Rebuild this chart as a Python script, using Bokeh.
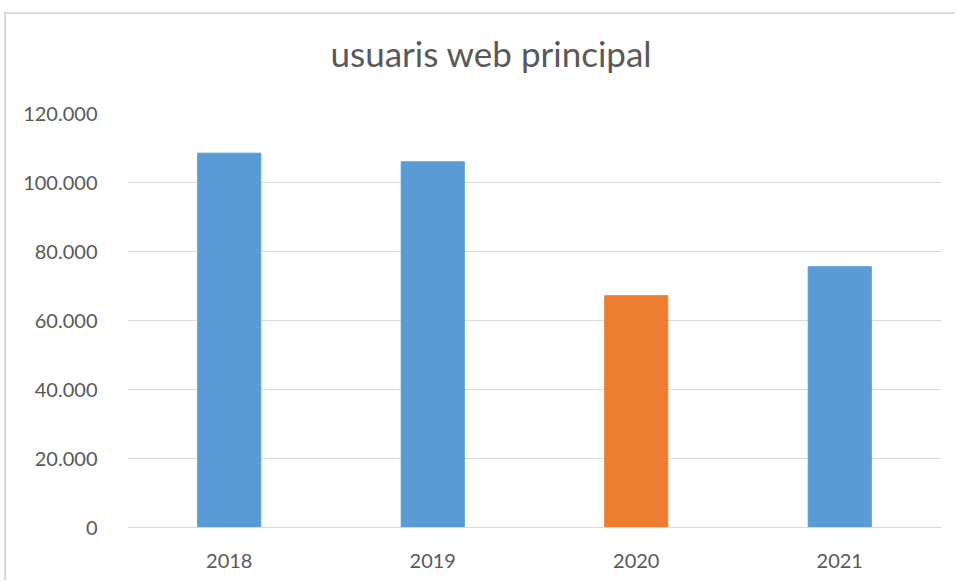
from bokeh.plotting import figure
from bokeh.models import ColumnDataSource, FixedTicker, Title
from bokeh.embed import file_html
from bokeh.resources import INLINE

years = ["2018", "2019", "2020", "2021"]
users = [108500, 106000, 67200, 75600]
colors = ["#5B9BD5", "#5B9BD5", "#ED7D31", "#5B9BD5"]
y_ticks = [0, 20000, 40000, 60000, 80000, 100000, 120000]
y_tick_labels = ["0", "20.000", "40.000", "60.000", "80.000", "100.000", "120.000"]

src = ColumnDataSource(dict(x=years, top=users, color=colors))

p = figure(x_range=years, y_range=(0, 120000), width=951, height=568,
           output_backend="svg", toolbar_location=None,
           min_border_left=121, min_border_right=16, min_border_top=97, min_border_bottom=55,
           margin=(12, 0, 0, 4),
           styles={"border-left": "2px solid #d9d9d9", "border-top": "2px solid #d9d9d9"})

p.vbar(x="x", top="top", width=0.31, color="color", source=src)

# thin spacer between the frame and the title
p.add_layout(Title(text=" ", text_font_size="2px", standoff=21), "above")

p.title.text = "usuaris web principal"
p.title.text_font = "Lato"
p.title.text_font_size = "35px"
p.title.text_font_style = "normal"
p.title.text_color = "#595959"
p.title.align = "left"
p.title.offset = 203
p.title.standoff = 30

p.outline_line_color = None
p.background_fill_color = "white"
p.border_fill_color = "white"

p.yaxis.ticker = FixedTicker(ticks=y_ticks)
p.yaxis.major_label_overrides = {t: l for t, l in zip(y_ticks, y_tick_labels)}
for ax in (p.xaxis, p.yaxis):
    ax.major_tick_line_color = None
    ax.minor_tick_line_color = None
    ax.major_label_text_font = "Lato"
    ax.major_label_text_font_size = "20px"
    ax.major_label_text_color = "#595959"
p.yaxis.axis_line_color = None
p.xaxis.axis_line_color = "#d9d9d9"
p.yaxis.major_label_standoff = 24
p.xaxis.major_label_standoff = 20

p.xgrid.grid_line_color = None
p.ygrid.grid_line_color = "#d9d9d9"
p.ygrid.grid_line_width = 1

open("out.html", "w").write(file_html(p, INLINE))
